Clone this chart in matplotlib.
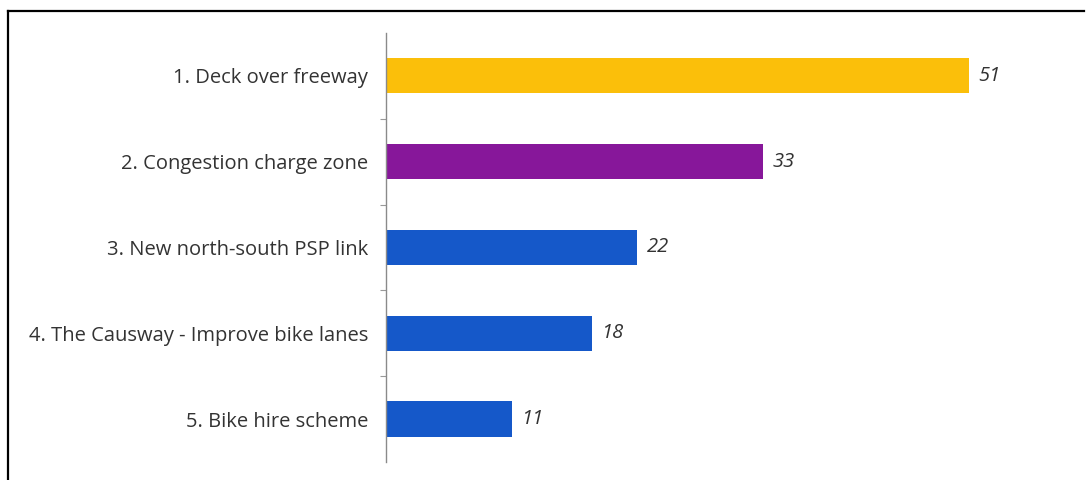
import matplotlib.pyplot as plt
import numpy as np
from matplotlib.lines import Line2D

# Survey results: number of votes per priority project
projects = [
    "1. Deck over freeway",
    "2. Congestion charge zone",
    "3. New north-south PSP link",
    "4. The Causway - Improve bike lanes",
    "5. Bike hire scheme",
]
votes = [51, 33, 22, 18, 11]
bar_colors = ["#FBBF0A", "#87179A", "#1558C9", "#1558C9", "#1558C9"]

plt.rcParams["font.family"] = ["Open Sans", "DejaVu Sans"]

fig = plt.figure(figsize=(10.86, 4.8), dpi=100)
ax = fig.add_axes([0.3554, 0.0375, 0.62, 0.894])

y = np.arange(len(projects))
ax.barh(y, votes, height=0.41, color=bar_colors)

for yi, v in zip(y, votes):
    ax.text(v + 0.8, yi, str(v), va="center", ha="left",
            fontsize=14.5, style="italic", color="#333333")

ax.set_yticks(y)
ax.set_yticklabels(projects, fontsize=14.5, color="#333333")
ax.set_yticks(y[:-1] + 0.5, minor=True)
ax.tick_params(axis="y", which="major", length=0, pad=13)
ax.tick_params(axis="y", which="minor", length=4, color="#999999", width=0.8)
ax.set_ylim(len(projects) - 0.5, -0.5)
ax.set_xlim(0, 58.9)
ax.set_xticks([])

for side in ["top", "right", "bottom"]:
    ax.spines[side].set_visible(False)
ax.spines["left"].set_color("#8a8a8a")
ax.spines["left"].set_linewidth(1.0)

# Black frame around the figure (top and left edges)
frame_top = 1 - 11 / 480
fig.add_artist(Line2D([8 / 1086, 1084 / 1086], [frame_top, frame_top],
                      color="black", linewidth=1.6, transform=fig.transFigure))
fig.add_artist(Line2D([8 / 1086, 8 / 1086], [0, frame_top],
                      color="black", linewidth=1.6, transform=fig.transFigure))

fig.savefig("out.png", dpi=100)
